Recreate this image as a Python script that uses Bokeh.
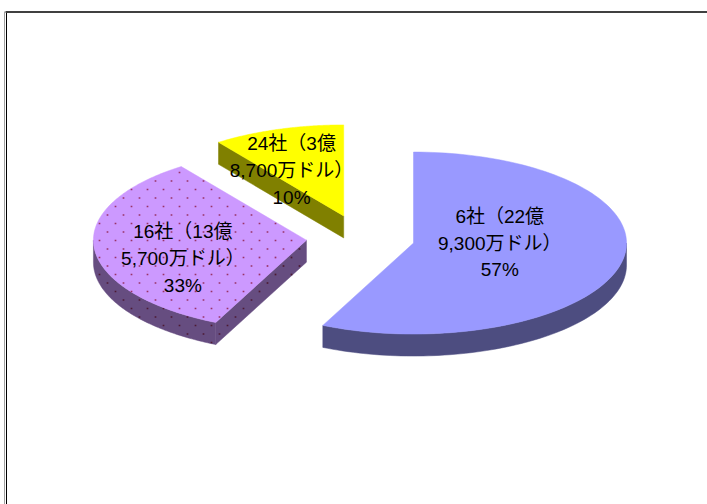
import numpy as np
from bokeh.plotting import figure
from bokeh.models import Range1d
from bokeh.embed import file_html
from bokeh.resources import INLINE
from bokeh.core.properties import value

# ---- data ----
companies = [6, 16, 24]
amount_oku = [22, 13, 3]
amount_man = ["9,300", "5,700", "8,700"]
shares = [57, 33, 10]

labels = [f"{c}社（{o}億\n{m}万ドル）\n{s}%"
          for c, o, m, s in zip(companies, amount_oku, amount_man, shares)]

# ---- style ----
top_colors = ["#9999FF", "#CC99FF", "#FFFF00"]
side_colors = ["#4D4D80", "#664D80", "#808000"]
dotted = [False, True, False]
dot_top, dot_side = "#993366", "#4D1A33"
label_off = [(0.405, 0.0), (-0.58, 0.2), (-0.245, -0.5)]

W, H = 707, 504
X0, Y0 = 0, 0
CX, CY = 360, 237.5
RX, RY = 213, 91
DEPTH = 22
EXPLODE = 0.255
FONT = "'Liberation Sans', 'Noto Sans CJK JP', sans-serif"

p = figure(width=W, height=H, x_range=Range1d(X0, X0 + W), y_range=Range1d(Y0 + H, Y0),
           output_backend="svg", toolbar_location=None, min_border=0,
           outline_line_color=None, border_fill_color="white",
           background_fill_color="white")
p.axis.visible = False
p.grid.visible = False

# chart area frame (only top and left edges lie inside the picture)
p.quad(left=[3.5, 5.5, 5], right=[4.5, 6.5, W],
       top=[11, 11, 10.5], bottom=[H, H, 12.5],
       fill_color=["#A0A0A0", "#000000", "#404040"], line_color=None)


def pt(vx, vy, a, dz=0.0):
    r = np.radians(a)
    return vx + RX * np.sin(r), vy - RY * np.cos(r) + dz


def inside(px, py, xs, ys):
    xs = np.asarray(xs); ys = np.asarray(ys)
    res = np.zeros(px.shape, dtype=bool)
    n = len(xs)
    for k in range(n):
        x1, y1 = xs[k], ys[k]
        x2, y2 = xs[(k + 1) % n], ys[(k + 1) % n]
        cond = (y1 > py) != (y2 > py)
        with np.errstate(divide="ignore", invalid="ignore"):
            xint = x1 + (py - y1) * (x2 - x1) / (y2 - y1)
        res ^= cond & (px < xint)
    return res


def dot_lattice(xs, ys, color):
    xmin, xmax, ymin, ymax = min(xs), max(xs), min(ys), max(ys)
    rows = np.arange(np.floor(ymin / 8.5) - 1, np.ceil(ymax / 8.5) + 1)
    px, py = [], []
    for r in rows:
        off = 8.0 if int(r) % 2 else 0.0
        cols = np.arange(np.floor(xmin / 16) - 1, np.ceil(xmax / 16) + 1) * 16 + off + 3
        px.extend(cols); py.extend([r * 8.5 + 2] * len(cols))
    px = np.array(px); py = np.array(py)
    m = inside(px, py, xs, ys)
    if m.any():
        p.scatter(px[m], py[m], marker="square", size=1.7, fill_color=color,
                  line_color=None)


total = float(sum(shares))
starts = np.cumsum([0] + shares[:-1]) / total * 360.0
ends = np.cumsum(shares) / total * 360.0

geo = []
for i in range(len(shares)):
    a0, a1 = starts[i], ends[i]
    mid = np.radians((a0 + a1) / 2)
    vx = CX + EXPLODE * RX * np.sin(mid)
    vy = CY - EXPLODE * RY * np.cos(mid)
    geo.append((a0, a1, vx, vy))

order = [2, 1, 0]
for i in order:
    a0, a1, vx, vy = geo[i]
    polys = []
    if np.cos(np.radians(a0 - 90)) < -0.01:
        ex, ey = pt(vx, vy, a0)
        xs = [vx, ex, ex, vx]
        ys = [vy, ey, ey + DEPTH, vy + DEPTH]
        polys.append((xs, ys, side_colors[i], dot_side))
    lo, hi = max(a0, 90), min(a1, 270)
    if hi > lo:
        aa = np.linspace(lo, hi, 80)
        tx, ty = pt(vx, vy, aa)
        xs = list(tx) + list(tx[::-1])
        ys = list(ty) + list((ty + DEPTH)[::-1])
        polys.append((xs, ys, side_colors[i], dot_side))
    aa = np.linspace(a0, a1, 120)
    tx, ty = pt(vx, vy, aa)
    polys.append(([vx] + list(tx), [vy] + list(ty), top_colors[i], dot_top))
    for xs, ys, c, dc in polys:
        p.patch(xs, ys, fill_color=c, line_color=c, line_width=0.5)
        if dotted[i]:
            dot_lattice(xs, ys, dc)

lx = [geo[i][2] + label_off[i][0] * RX for i in range(3)]
ly = [geo[i][3] + label_off[i][1] * RY for i in range(3)]
p.text(x=lx, y=ly, text=labels, text_align="center", text_baseline="middle",
       text_font=value(FONT), text_font_size="19px", text_color="#000000",
       text_line_height=1.28)

open("out.html", "w").write(file_html(p, INLINE))
